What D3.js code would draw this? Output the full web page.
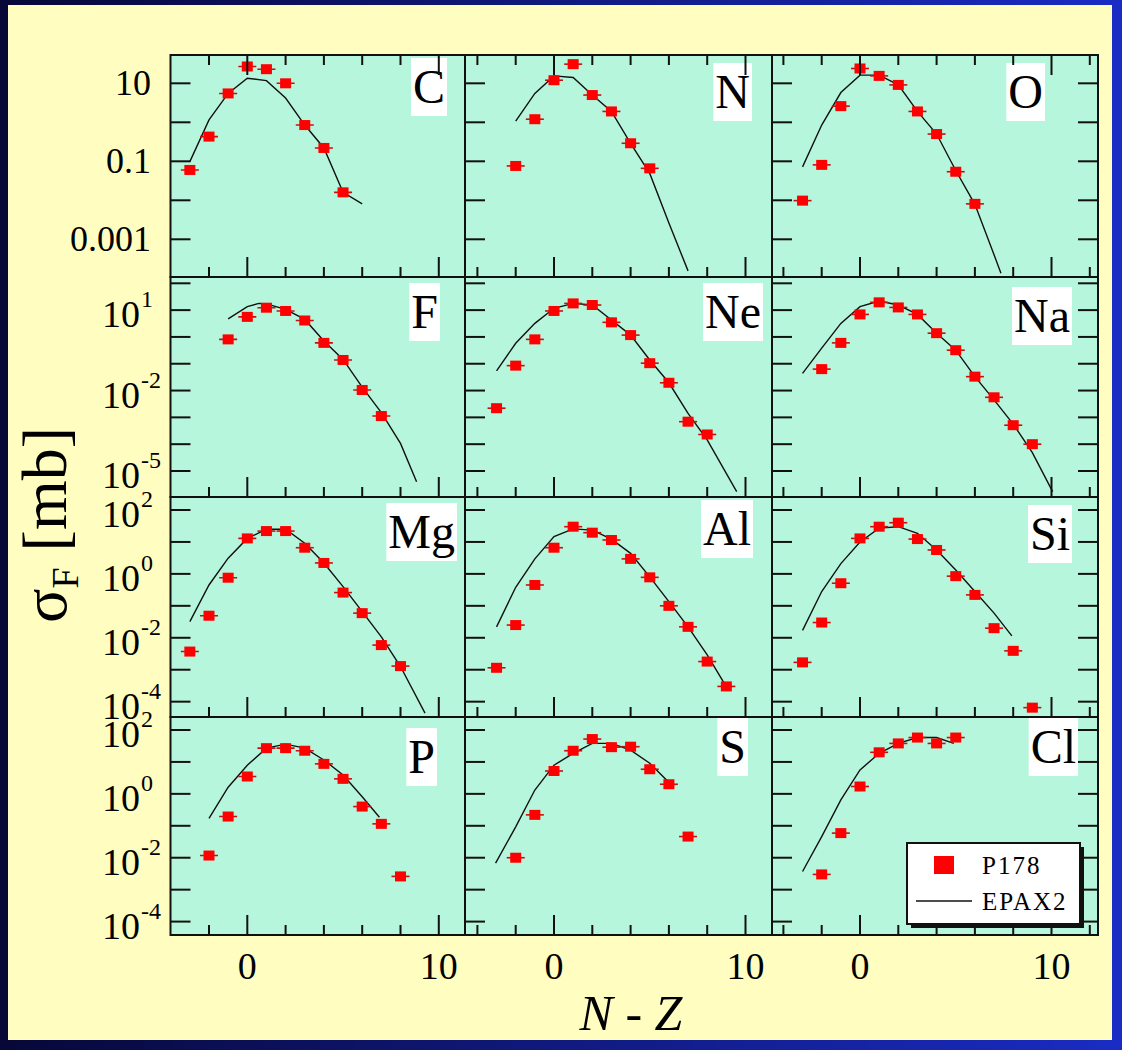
<!DOCTYPE html>
<html>
<head>
<meta charset="utf-8">
<script src="https://cdn.jsdelivr.net/npm/d3@7"></script>
<style>
  html, body { margin: 0; padding: 0; background: #0a0a48; }
  svg { display: block; }
</style>
</head>
<body>
<svg id="chart" width="1122" height="1050"></svg>
<script>
// ---- data: fragment cross sections sigma_F [mb] versus N - Z ----
const elements = ["C", "N", "O", "F", "Ne", "Na", "Mg", "Al", "Si", "P", "S", "Cl"];

// P178 measurements: first N - Z value, then one value per integer step
const p178Start = [-3, -2, -3, -1, -3, -2, -3, -3, -3, -2, -2, -2];
const p178_C  = [0.060, 0.43, 5.5, 27, 23, 10, 0.85, 0.22, 0.016];
const p178_N  = [0.076, 1.2, 12, 31, 5.0, 1.9, 0.29, 0.066];
const p178_O  = [0.0098, 0.081, 2.6, 24, 15.5, 9.1, 1.9, 0.50, 0.054, 0.0081];
const p178_F  = [0.81, 5.6, 12.3, 9.3, 4.1, 0.60, 0.138, 0.0105, 0.00112];
const p178_Ne = [0.0022, 0.085, 0.81, 9.3, 17.8, 15.5, 3.5, 1.17, 0.105, 0.0195, 0.00069, 0.00023];
const p178_Na = [0.063, 0.60, 6.9, 19.5, 12.6, 6.9, 1.38, 0.32, 0.033, 0.0056, 0.00051, 0.0001];
const p178_Mg = [0.0037, 0.049, 0.76, 12.9, 21.9, 21.9, 6.6, 2.2, 0.26, 0.059, 0.0059, 0.0013];
const p178_Al = [0.00115, 0.025, 0.45, 6.6, 30, 19.5, 11.5, 2.95, 0.78, 0.10, 0.022, 0.0018, 0.0003];
const p178_Si = [0.0017, 0.030, 0.51, 12.9, 30, 40, 12.3, 5.6, 0.85, 0.22, 0.020, 0.0039, 0.000065];
const p178_P  = [0.0117, 0.195, 3.5, 27, 27, 22.4, 8.7, 2.95, 0.40, 0.115, 0.0026];
const p178_S  = [0.010, 0.22, 5.2, 22.4, 52, 29, 30, 5.9, 2.0, 0.046];
const p178_Cl = [0.0030, 0.059, 1.7, 20, 38, 58, 38, 58];

// EPAX2 systematics: N - Z nodes and cross sections
const epaxNZ_C  = [-3, -2, -1, 0, 1, 2, 3, 4, 5, 6];
const epax_C    = [0.098, 1.15, 5.5, 13.5, 11.7, 4.2, 0.85, 0.22, 0.016, 0.0081];
const epaxNZ_N  = [-2, -1, 0, 1, 2, 3, 4, 5, 6, 7];
const epax_N    = [1.07, 5.5, 15.5, 14.1, 5.0, 1.9, 0.29, 0.049, 0.0026, 0.000155];
const epaxNZ_O  = [-3, -2, -1, 0, 1, 2, 3, 4, 5, 6, 7, 7.36];
const epax_O    = [0.072, 0.85, 5.8, 16.2, 16.2, 9.1, 1.9, 0.50, 0.058, 0.0079, 0.0004, 0.000135];
const epaxNZ_F  = [-1, 0, 0.6, 1, 2, 3, 4, 5, 6, 7, 8, 8.84];
const epax_F    = [4.7, 13.5, 17.8, 17.0, 10.7, 4.5, 0.71, 0.145, 0.0135, 0.0015, 0.000107, 0.000004];
const epaxNZ_Ne = [-3, -2, -1, 0, 1, 2, 3, 4, 5, 6, 7, 8, 9.54];
const epax_Ne   = [0.054, 0.58, 3.2, 11.7, 17.8, 15.5, 4.3, 1.17, 0.138, 0.0195, 0.0014, 0.000145, 0.0000017];
const epaxNZ_Na = [-3, -2, -1, 0, 1, 2, 3, 4, 5, 6, 7, 8, 9, 10.06];
const epax_Na   = [0.044, 0.38, 3.2, 13.5, 21.9, 15.5, 6.9, 1.38, 0.32, 0.033, 0.0045, 0.00056, 0.000048, 0.0000017];
const epaxNZ_Mg = [-3, -2, -1, 0, 1, 2, 3, 4, 5, 6, 7, 8, 9.28];
const epax_Mg   = [0.032, 0.45, 3.1, 12.9, 25, 25, 9.1, 2.2, 0.40, 0.066, 0.0107, 0.00126, 0.000044];
const epaxNZ_Al = [-3, -2, -1, 0, 1, 2, 3, 4, 5, 6, 7, 8, 8.9];
const epax_Al   = [0.022, 0.38, 2.95, 14.8, 25.7, 23.4, 12.3, 4.4, 0.81, 0.135, 0.022, 0.0029, 0.00037];
const epaxNZ_Si = [-3, -2, -1, 0, 1, 2, 3, 4, 5, 6, 7, 7.93];
const epax_Si   = [0.017, 0.28, 2.1, 10, 27, 30, 18.6, 5.6, 1.32, 0.28, 0.059, 0.0115];
const epaxNZ_P  = [-2, -1, 0, 1, 2, 3, 4, 5, 6, 6.9];
const epax_P    = [0.17, 1.62, 7.9, 27, 36, 27, 11.5, 3.9, 0.81, 0.186];
const epaxNZ_S  = [-3.05, -2, -1, 0, 1, 2, 3, 4, 5, 5.9];
const epax_S    = [0.0068, 0.093, 1.32, 7.9, 18.6, 38, 38, 23.4, 9.1, 2.6];
const epaxNZ_Cl = [-3, -2, -1, 0, 1, 2, 3, 4, 4.9];
const epax_Cl   = [0.0037, 0.046, 0.65, 5.6, 18.6, 38, 58, 58, 38];

// axis tick labels
const row1TickValues = [10, 0.1, 0.001];
const row1TickLabels = ["10", "0.1", "0.001"];
const powerTickExponents = [[1, -2, -5], [2, 0, -2, -4], [2, 0, -2, -4]];
const xTickLabels = [0, 10];
const legendLabels = ["P178", "EPAX2"];

// ---- layout ----
const colEdges = [170.5, 465, 772, 1098];
const colZero = [247.3, 554, 860];
const pxPerUnit = 19.15;
const rowEdges = [55, 277, 497, 717, 935];
const rowLogDomain = [[-3.967, 1.726], [-5.97, 2.235], [-4.48, 2.407], [-4.42, 2.407]];
const labelRightInset = [18, 20, 53, 25, 9, 26, 8, 19, 26, 28, 24, 20];
const labelTopInset = [3, 8, 8, 6, 6, 10, 6, 3, 8, 11, 1, 1];

const p178Sets = [p178_C, p178_N, p178_O, p178_F, p178_Ne, p178_Na, p178_Mg, p178_Al, p178_Si, p178_P, p178_S, p178_Cl];
const epaxNZSets = [epaxNZ_C, epaxNZ_N, epaxNZ_O, epaxNZ_F, epaxNZ_Ne, epaxNZ_Na, epaxNZ_Mg, epaxNZ_Al, epaxNZ_Si, epaxNZ_P, epaxNZ_S, epaxNZ_Cl];
const epaxSets = [epax_C, epax_N, epax_O, epax_F, epax_Ne, epax_Na, epax_Mg, epax_Al, epax_Si, epax_P, epax_S, epax_Cl];

const svg = d3.select("#chart");
const W = 1122, H = 1050;
// every text uses the Times-metric serif face
const txt = (sel) => sel.append("text").style("font-family", '"Liberation Serif"').attr("fill", "#000");

// slide frame
const defs = svg.append("defs");
const grad = defs.append("linearGradient").attr("id", "frameGrad")
  .attr("x1", "0%").attr("x2", "100%").attr("y1", "0%").attr("y2", "0%");
grad.append("stop").attr("offset", "0%").attr("stop-color", "#070738");
grad.append("stop").attr("offset", "100%").attr("stop-color", "#1a2cc4");
svg.append("rect").attr("width", W).attr("height", H).attr("fill", "url(#frameGrad)");
svg.append("rect").attr("x", 8).attr("y", 5).attr("width", 1104).attr("height", 1035).attr("fill", "#fffdc0");

const panelsG = svg.append("g");

elements.forEach((el, i) => {
  const r = Math.floor(i / 3), c = i % 3;
  const x0 = colEdges[c], x1 = colEdges[c + 1];
  const y0 = rowEdges[r], y1 = rowEdges[r + 1];
  const x = d3.scaleLinear()
    .domain([(x0 - colZero[c]) / pxPerUnit, (x1 - colZero[c]) / pxPerUnit])
    .range([x0, x1]);
  const dom = rowLogDomain[r];
  const y = d3.scaleLog().domain([Math.pow(10, dom[0]), Math.pow(10, dom[1])]).range([y1, y0]);

  const g = panelsG.append("g");
  const clipId = "clip" + i;
  defs.append("clipPath").attr("id", clipId)
    .append("rect").attr("x", x0).attr("y", y0).attr("width", x1 - x0).attr("height", y1 - y0);

  g.append("rect").attr("x", x0).attr("y", y0).attr("width", x1 - x0).attr("height", y1 - y0)
    .attr("fill", "#b6f6dc");

  const inner = g.append("g").attr("clip-path", `url(#${clipId})`);

  // EPAX2 curve
  const curve = epaxNZSets[i].map((nz, k) => [nz, epaxSets[i][k]]);
  inner.append("path")
    .attr("d", d3.line().x(d => x(d[0])).y(d => y(d[1]))(curve))
    .attr("fill", "none").attr("stroke", "#111").attr("stroke-width", 1.4);

  // P178 points
  const pts = p178Sets[i].map((v, k) => [p178Start[i] + k, v]);
  const mk = inner.selectAll("g.pt").data(pts).join("g")
    .attr("transform", d => `translate(${x(d[0])},${y(d[1])})`);
  mk.append("line").attr("x1", -9).attr("x2", 9).attr("y1", 0).attr("y2", 0)
    .attr("stroke", "#c81010").attr("stroke-width", 1.6);
  mk.append("rect").attr("x", -5.5).attr("y", -5).attr("width", 11).attr("height", 10)
    .attr("fill", "#ff0000");

  // element label
  const lbl = g.append("g");
  const bg = lbl.append("rect").attr("fill", "#ffffff");
  const t = txt(lbl).attr("font-size", 48).text(el);
  const tw = t.node().getComputedTextLength();
  const bx1 = x1 - labelRightInset[i];
  const bx0 = bx1 - tw - 4;
  const by0 = y0 + labelTopInset[i];
  bg.attr("x", bx0).attr("y", by0).attr("width", tw + 4).attr("height", 58);
  t.attr("x", bx0 + 2).attr("y", by0 + 45);

  // border
  g.append("rect").attr("x", x0).attr("y", y0).attr("width", x1 - x0).attr("height", y1 - y0)
    .attr("fill", "none").attr("stroke", "#111").attr("stroke-width", 2);

  // y ticks (every decade)
  const decades = d3.range(Math.ceil(dom[0]), Math.floor(dom[1]) + 1).map(p => Math.pow(10, p));
  g.selectAll("line.yl").data(decades).join("line")
    .attr("x1", x0).attr("x2", x0 + 20).attr("y1", d => y(d)).attr("y2", d => y(d))
    .attr("stroke", "#111").attr("stroke-width", 2);
  if (c === 2) {
    g.selectAll("line.yr").data(decades).join("line")
      .attr("x1", x1 - 20).attr("x2", x1).attr("y1", d => y(d)).attr("y2", d => y(d))
      .attr("stroke", "#111").attr("stroke-width", 2);
  }

  // x ticks (every two units, long at 0 and 10)
  const xd = x.domain();
  const evens = d3.range(Math.ceil(xd[0] / 2) * 2, xd[1], 2).filter(v => x(v) > x0 + 2 && x(v) < x1 - 2);
  const tickLen = v => (v % 10 === 0 ? 20 : 10);
  g.selectAll("line.xb").data(evens).join("line")
    .attr("x1", d => x(d)).attr("x2", d => x(d)).attr("y1", y1).attr("y2", d => y1 - tickLen(d))
    .attr("stroke", "#111").attr("stroke-width", 2);
  if (r === 0) {
    g.selectAll("line.xt").data(evens).join("line")
      .attr("x1", d => x(d)).attr("x2", d => x(d)).attr("y1", y0).attr("y2", d => y0 + tickLen(d))
      .attr("stroke", "#111").attr("stroke-width", 2);
  }

  // y tick labels on the left column
  if (c === 0) {
    if (r === 0) {
      row1TickValues.forEach((v, k) => {
        txt(g).attr("x", 151).attr("y", y(v) + 12).attr("text-anchor", "end")
          .attr("font-size", 36).text(row1TickLabels[k]);
      });
    } else {
      powerTickExponents[r - 1].forEach(p => {
        const yy = y(Math.pow(10, p));
        txt(g).attr("x", 140).attr("y", yy + 17).attr("text-anchor", "end")
          .attr("font-size", 38).text("10");
        txt(g).attr("x", 141).attr("y", yy - 3).attr("font-size", 24).text(String(p));
      });
    }
  }

  // x tick labels on the bottom row
  if (r === 3) {
    xTickLabels.forEach(v => {
      txt(g).attr("x", x(v)).attr("y", y1 + 44).attr("text-anchor", "middle")
        .attr("font-size", 38).text(v);
    });
  }
});

// axis titles
const yTitle = txt(svg)
  .attr("transform", "translate(66,525) rotate(-90)")
  .attr("text-anchor", "middle").attr("font-size", 64);
yTitle.append("tspan").text("σ");
yTitle.append("tspan").attr("font-size", 38).attr("dy", 12).text("F");
yTitle.append("tspan").attr("dy", -12).text(" [mb]");

const xTitle = txt(svg).attr("x", 631).attr("y", 1030).attr("text-anchor", "middle")
  .attr("font-size", 50);
xTitle.append("tspan").attr("font-style", "italic").text("N");
xTitle.append("tspan").text(" - ");
xTitle.append("tspan").attr("font-style", "italic").text("Z");

// legend
const lg = svg.append("g");
lg.append("rect").attr("x", 911).attr("y", 847).attr("width", 173).attr("height", 81).attr("fill", "#111");
lg.append("rect").attr("x", 907).attr("y", 843).attr("width", 173).attr("height", 81)
  .attr("fill", "#ffffff").attr("stroke", "#111").attr("stroke-width", 2);
lg.append("rect").attr("x", 934).attr("y", 856).attr("width", 20).attr("height", 18).attr("fill", "#ff0000");
lg.append("line").attr("x1", 916).attr("x2", 972).attr("y1", 901).attr("y2", 901)
  .attr("stroke", "#111").attr("stroke-width", 1.5);
txt(lg).attr("x", 982).attr("y", 874).attr("font-size", 25).attr("letter-spacing", 2).text(legendLabels[0]);
txt(lg).attr("x", 982).attr("y", 910).attr("font-size", 25).attr("letter-spacing", 2).text(legendLabels[1]);
</script>
</body>
</html>
